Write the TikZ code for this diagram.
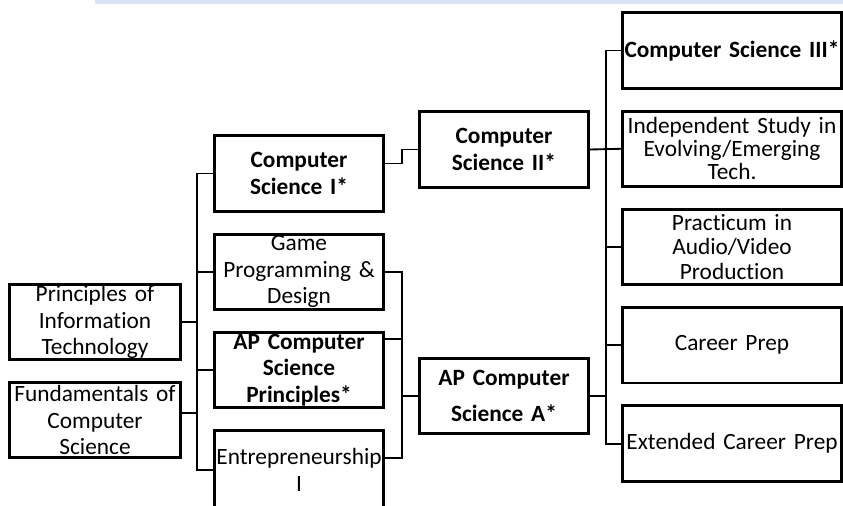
\documentclass[tikz,border=0pt]{standalone}
\usepackage{fontspec}
\setmainfont{Carlito}[Ligatures=NoCommon,WordSpace=0.8]
\usetikzlibrary{positioning,calc}
\definecolor{topband}{RGB}{214,228,243}

\begin{document}
\begin{tikzpicture}[x=0.75pt,y=-0.75pt,node distance=15pt,
   every node/.style={font=\fontsize{17.5}{19.8}\selectfont},
   course/.style={draw,line width=2.2pt,align=center,inner xsep=1pt,inner ysep=0pt,minimum height=56.5pt},
   midbox/.style={course,text width=125pt},
   leftbox/.style={course,text width=126pt},
   rightbox/.style={course,text width=162pt},
   link/.style={line width=1.4pt}]
  \useasboundingbox (0,0) rectangle (843,506);
  \clip (0,0) rectangle (843,506);
  \fill[white] (0,0) rectangle (843,506);
  \fill[topband] (95,0) rectangle (843,4);

  % first courses
  \node[leftbox] (pit) at (95,322) {Principles of\\ Information\\ Technology};
  \node[leftbox,below=of pit] (fund) {Fundamentals of\\ Computer\\ Science};

  % second column
  \node[midbox] (cs1) at (299,173.5) {\textbf{Computer}\\ \textbf{Science I*}};
  \node[midbox,below=of cs1] (game) {Game\\ Programming \&\\ Design};
  \node[midbox,below=of game] (apcsp) {\textbf{AP Computer}\\ \textbf{Science}\\ \textbf{Principles*}};
  \node[midbox,below=of apcsp,minimum height=59pt] (entr) {Entrepreneurship\\ I};

  % third column
  \node[midbox] (cs2) at (504,149.5) {\textbf{Computer}\\ \textbf{Science II*}};
  \node[midbox] (csa) at (504,396) {\textbf{AP Computer}\\[7pt] \textbf{Science A*}};

  % last column
  \node[rightbox] (cs3) at (732,50.5) {\textbf{Computer Science III*}};
  \node[rightbox,below=of cs3] (indep) {Independent Study in\\[-2.5pt] Evolving/Emerging\\[-2.5pt] Tech.};
  \node[rightbox,below=of indep] (pract) {Practicum in\\[-1.5pt] Audio/Video\\[-1.5pt] Production};
  \node[rightbox,below=of pract] (career) {Career Prep};
  \node[rightbox,below=of career] (ext) {Extended Career Prep};

  \coordinate (busL) at (197,0);
  \coordinate (busM) at (402,0);
  \coordinate (busR) at (606,0);
  \coordinate (fundout) at ($(fund.east)+(0,-7)$);
  \coordinate (cs1out) at ($(cs1.east)+(0,-10)$);
  \coordinate (apcspout) at ($(apcsp.east)+(0,-31)$);
  \coordinate (entrout) at ($(entr.east)+(0,-12)$);

  % left bus
  \draw[link] (cs1.west) -| (busL |- entr.west) -- (entr.west);
  \draw[link] (game.west) -- (busL |- game.west);
  \draw[link] (apcsp.west) -- (busL |- apcsp.west);
  \draw[link] (pit.east) -- (busL |- pit.east);
  \draw[link] (fundout) -- (busL |- fundout);

  % middle bus
  \draw[link] (cs1out) -- (busM |- cs1out) |- (cs2.west);
  \draw[link] (game.east) -| (busM |- entrout) -- (entrout);
  \draw[link] (apcspout) -- (busM |- apcspout);
  \draw[link] (csa.west) -- (busM |- csa.west);

  % right bus
  \draw[link] (cs3.west) -| (busR |- ext.west) -- (ext.west);
  \draw[link] (cs2.east) -- (indep.west);
  \draw[link] (pract.west) -- (busR |- pract.west);
  \draw[link] (career.west) -- (busR |- career.west);
  \draw[link] (csa.east) -- (busR |- csa.east);
\end{tikzpicture}
\end{document}
